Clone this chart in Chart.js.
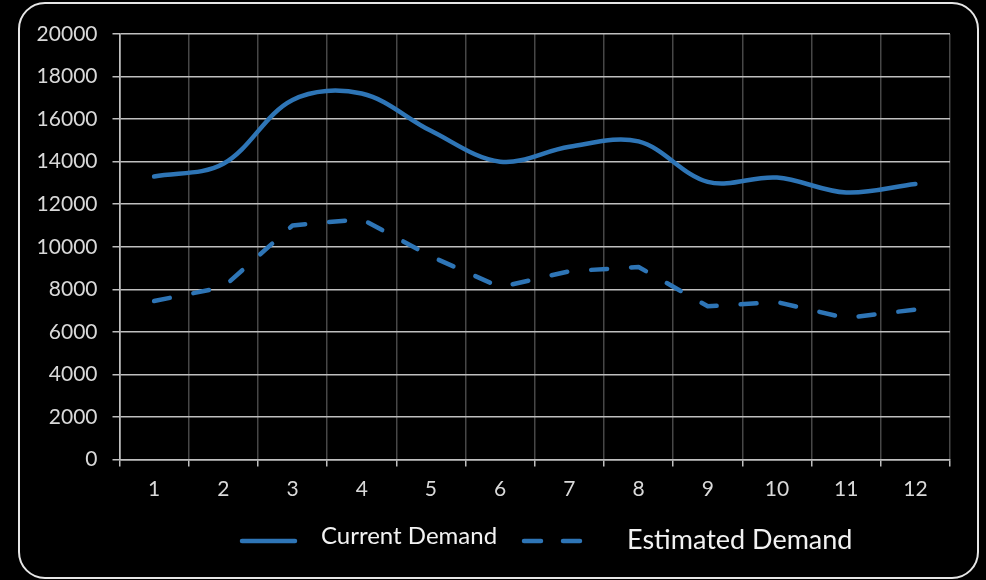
<!DOCTYPE html>
<html>
<head>
<meta charset="utf-8">
<script src="https://cdn.jsdelivr.net/npm/chart.js@4.4.1/dist/chart.umd.min.js"></script>
<style>
  html, body { margin: 0; padding: 0; background: #000; }
  #wrap { position: relative; width: 986px; height: 580px; background: #000; overflow: hidden; }
  #frame { position: absolute; left: 18px; top: 2px; width: 961px; height: 577px;
           border: 2px solid #e6e6e6; border-radius: 27px; box-sizing: border-box; }
  canvas { position: absolute; left: 0; top: 0; }
</style>
</head>
<body>
<div id="wrap">
  <div id="frame"></div>
  <canvas id="chart" width="986" height="580"></canvas>
</div>
<script>
// Months on the horizontal axis
const months = ['1', '2', '3', '4', '5', '6', '7', '8', '9', '10', '11', '12'];

// Demand per month
const currentDemand   = [13300, 13900, 16900, 17200, 15450, 14000, 14700, 14950, 13050, 13250, 12550, 12950];
const estimatedDemand = [7450, 8100, 11000, 11300, 9550, 8100, 8850, 9050, 7200, 7400, 6650, 7050];

// Value axis range
const yMin = 0;
const yMax = 20000;
const yStep = 2000;

const LINE_BLUE = '#2e75b6';
const LABEL_GREY = '#d9d9d9';
const FONT = 'Lato, "Open Sans", sans-serif';

// Legend drawn under the plot: each entry has its own text size
const legendLayout = [
  { x0: 240, x1: 297, lineY: 541, textX: 321, baseline: 544, size: 24 },
  { x0: 522, x1: 584, lineY: 541, textX: 627, baseline: 549, size: 27 }
];

const bottomLegend = {
  id: 'bottomLegend',
  afterDraw(chart) {
    const ctx = chart.ctx;
    chart.data.datasets.forEach((ds, i) => {
      const L = legendLayout[i];
      ctx.save();
      ctx.strokeStyle = ds.borderColor;
      ctx.lineWidth = ds.borderWidth;
      ctx.lineCap = 'round';
      ctx.setLineDash(i === 1 ? [17, 22] : []);
      ctx.beginPath();
      ctx.moveTo(L.x0 + 2, L.lineY);
      ctx.lineTo(L.x1 - 2, L.lineY);
      ctx.stroke();
      ctx.setLineDash([]);
      ctx.fillStyle = '#f2f2f2';
      ctx.font = L.size + 'px ' + FONT;
      ctx.textAlign = 'left';
      ctx.textBaseline = 'alphabetic';
      ctx.fillText(ds.label, L.textX, L.baseline);
      ctx.restore();
    });
  }
};

new Chart(document.getElementById('chart'), {
  type: 'line',
  data: {
    labels: months,
    datasets: [
      {
        label: 'Current Demand',
        data: currentDemand,
        borderColor: LINE_BLUE,
        borderWidth: 4.5,
        tension: 0.35,
        pointRadius: 0,
        borderCapStyle: 'round',
        borderJoinStyle: 'round',
        fill: false
      },
      {
        label: 'Estimated Demand',
        data: estimatedDemand,
        borderColor: LINE_BLUE,
        borderWidth: 4.5,
        tension: 0,
        borderDash: [16, 24],
        pointRadius: 0,
        borderCapStyle: 'round',
        borderJoinStyle: 'round',
        fill: false
      }
    ]
  },
  options: {
    responsive: false,
    animation: false,
    devicePixelRatio: 1,
    layout: { padding: { left: 0, top: 34, right: 36, bottom: 0 } },
    plugins: { legend: { display: false }, tooltip: { enabled: false } },
    scales: {
      x: {
        offset: true,
        grid: {
          offset: true,
          color: (c) => c.index === 0 ? '#bfbfbf' : '#474747',
          lineWidth: 1.5,
          tickColor: '#bfbfbf',
          tickLength: 7
        },
        border: { color: '#bfbfbf', width: 1.5 },
        ticks: { color: LABEL_GREY, font: { family: FONT, size: 21 }, padding: 10, maxRotation: 0 },
        afterFit(scale) { scale.height = 120.5; }
      },
      y: {
        min: yMin,
        max: yMax,
        ticks: {
          stepSize: yStep,
          color: LABEL_GREY,
          font: { family: FONT, size: 21 },
          padding: 15,
          callback: (v) => String(v)
        },
        grid: { color: '#bfbfbf', lineWidth: 1.5, tickColor: '#bfbfbf', tickLength: 7 },
        border: { color: '#bfbfbf', width: 1.5 },
        afterFit(scale) { scale.width = 119.5; }
      }
    }
  },
  plugins: [bottomLegend]
});
</script>
</body>
</html>
